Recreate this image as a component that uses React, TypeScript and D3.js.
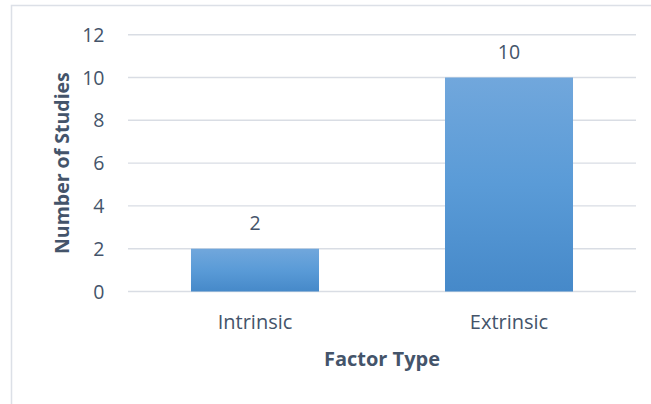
import React from "react";
import * as d3 from "d3";

// Studies per factor type
const categories: string[] = ["Intrinsic", "Extrinsic"];
const studyCounts: number[] = [2, 10];
const yTicks: number[] = [0, 2, 4, 6, 8, 10, 12];

const WIDTH = 651;
const HEIGHT = 404;
const PLOT = { left: 128, right: 636, top: 34.7, bottom: 291.5 };

const TEXT = "#44546a";
const GRID = "#d9dde4";
const FONT = "'Open Sans', 'Noto Sans', sans-serif";

export default function App() {
  const x = d3
    .scaleBand<string>()
    .domain(categories)
    .range([PLOT.left, PLOT.right])
    .paddingInner(0.496)
    .paddingOuter(0.248);
  const y = d3.scaleLinear().domain([0, 12]).range([PLOT.bottom, PLOT.top]);

  return (
    <svg
      width={WIDTH}
      height={HEIGHT}
      style={{ position: "absolute", left: 0, top: 0, background: "#fff" }}
      fontFamily={FONT}
    >
      <defs>
        <linearGradient id="barFill" x1="0" y1="0" x2="0" y2="1">
          <stop offset="0%" stopColor="#71a7dc" />
          <stop offset="50%" stopColor="#5a9bd7" />
          <stop offset="100%" stopColor="#4689c9" />
        </linearGradient>
      </defs>

      {/* chart area frame */}
      <rect x={11.5} y={5.5} width={WIDTH + 20} height={HEIGHT + 20} fill="#fff" stroke="#dce0e7" strokeWidth={1.5} />

      {/* gridlines and value ticks */}
      {yTicks.map((t) => (
        <g key={t}>
          <line x1={PLOT.left} x2={PLOT.right} y1={y(t)} y2={y(t)} stroke={GRID} strokeWidth={1.4} />
          <text x={104.5} y={y(t) + 7} textAnchor="end" fontSize={19.5} fill={TEXT}>
            {t}
          </text>
        </g>
      ))}

      {/* bars with value labels */}
      {categories.map((c, i) => (
        <g key={c}>
          <rect
            x={x(c)!}
            y={y(studyCounts[i])}
            width={x.bandwidth()}
            height={y(0) - y(studyCounts[i])}
            fill="url(#barFill)"
          />
          <text
            x={x(c)! + x.bandwidth() / 2}
            y={y(studyCounts[i]) - 18.5}
            textAnchor="middle"
            fontSize={19.5}
            fill={TEXT}
          >
            {studyCounts[i]}
          </text>
          <text x={x(c)! + x.bandwidth() / 2} y={329.3} textAnchor="middle" fontSize={20} fill={TEXT}>
            {c}
          </text>
        </g>
      ))}

      {/* axis titles */}
      <text x={(PLOT.left + PLOT.right) / 2} y={366} textAnchor="middle" fontSize={20} fontWeight="bold" fill={TEXT}>
        Factor Type
      </text>
      <text
        transform={`translate(69, ${(PLOT.top + PLOT.bottom) / 2}) rotate(-90)`}
        textAnchor="middle"
        fontSize={19.5}
        fontWeight="bold"
        fill={TEXT}
      >
        Number of Studies
      </text>
    </svg>
  );
}
